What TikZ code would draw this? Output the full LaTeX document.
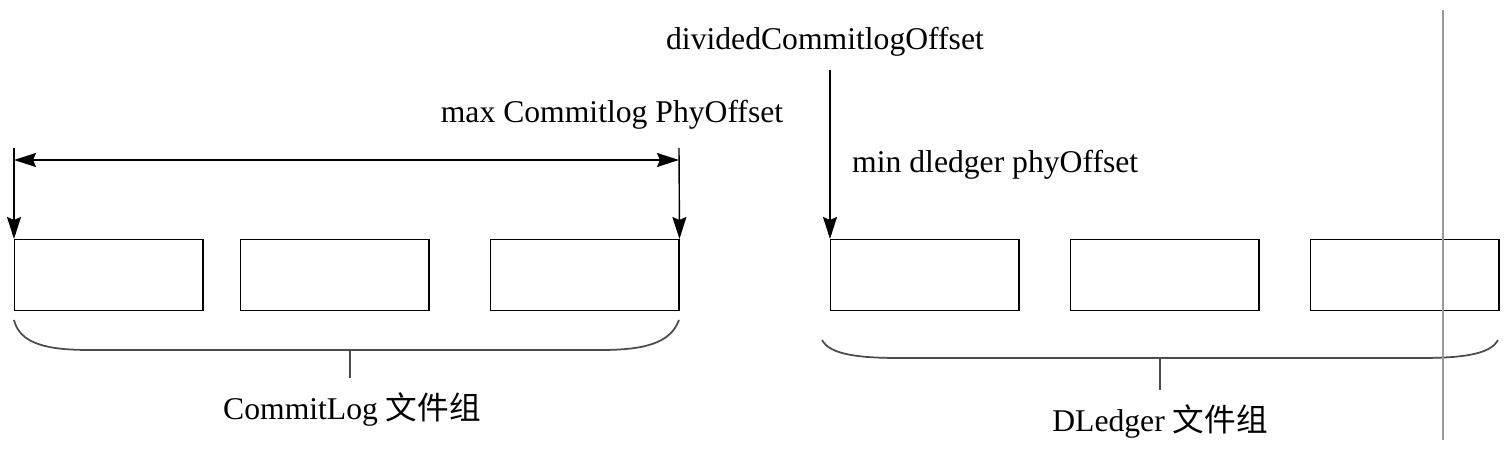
\documentclass[tikz,border=0pt]{standalone}
\usepackage{fontspec}
\setmainfont{Liberation Serif}
\newfontfamily\cjk{Noto Sans CJK SC}
\usetikzlibrary{arrows.meta}

\tikzset{
    filebox/.style={draw,minimum width=1.88cm,minimum height=0.71cm,inner sep=0pt},
    lbl/.style={font=\fontsize{9}{11}\selectfont,inner sep=1pt},
    ptr/.style={-{Stealth[length=2.2mm,width=1.4mm,inset=0.3mm]}},
    brace/.style={draw=black!70,line width=0.5pt}
}

\begin{document}
\begin{tikzpicture}[x=0.01cm,y=-0.01cm]

        % Background
        \useasboundingbox (0,0) rectangle (1508,452);

        % Labels
        \node[lbl] (maxoff) at (612,115) {max Commitlog PhyOffset};
        \node[lbl] (divoff) at (825,42) {dividedCommitlogOffset};
        \node[lbl,anchor=west] (minoff) at (848,165) {min dledger phyOffset};
        \node[lbl] (clgroup) at (352,410) {CommitLog {\cjk 文件组}};
        \node[lbl] (dlgroup) at (1160,422) {DLedger {\cjk 文件组}};

        % Files
        \foreach \name/\x in {ca/14,cb/240,cc/490,da/830,db/1070,dc/1310} {
            \node[filebox,anchor=north west] (\name) at (\x,239) {};
        }

        % Pointers
        \coordinate (ctop) at (14,148);
        \coordinate (cend) at (679,148);
        \coordinate (dtop) at (830,70);
        \coordinate (spanl) at (14,160);
        \coordinate (spanr) at (679,160);
        \draw[ptr] (ctop) -- (ca.north west);
        \draw[ptr] (cend) -- (cc.north east);
        \draw[ptr] (dtop) -- (da.north west);
        \draw[{Stealth[length=2.2mm,width=1.4mm,inset=0.3mm]}-{Stealth[length=2.2mm,width=1.4mm,inset=0.3mm]}] (spanl) -- (spanr);

        % Braces
        \draw[brace] (14,320) .. controls (20,345) and (50,350) .. (90,350) -- (600,350)
            .. controls (640,350) and (670,345) .. (679,320);
        \draw[brace] (350,350) -- (350,378);
        \draw[brace] (822,340) .. controls (830,355) and (860,358) .. (900,358) -- (1420,358)
            .. controls (1460,358) and (1490,355) .. (1498,340);
        \draw[brace] (1160,358) -- (1160,390);

        % Cut line
        \draw[black!40] (1443,10) -- (1443,440);

    \end{tikzpicture}
\end{document}
